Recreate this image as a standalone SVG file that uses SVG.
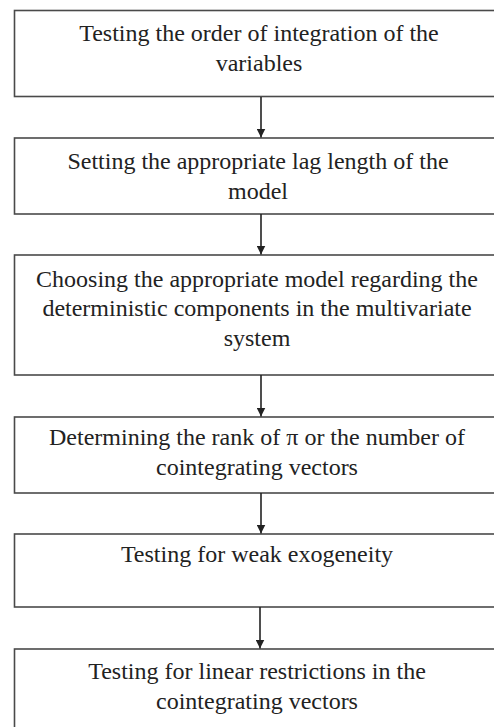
<svg xmlns="http://www.w3.org/2000/svg" width="494" height="727" viewBox="0 0 494 727">
<defs>
<style>
.box{fill:#fff;stroke:#4a4a4a;stroke-width:1.6}
.c{stroke:#222;stroke-width:1.6;fill:none}
</style>
<marker id="ah" viewBox="0 0 10 10" refX="10" refY="5" markerWidth="9" markerHeight="9" markerUnits="userSpaceOnUse" orient="auto">
<path d="M0,0 L10,5 L0,10 z" fill="#222"/>
</marker>
</defs>
<rect width="494" height="727" fill="#fff"/>
<g font-family="Liberation Serif, Times New Roman, DejaVu Serif, serif" font-size="24" fill="#222" text-anchor="middle">
<g id="n1"><rect class="box" x="14.5" y="10.5" width="495" height="86"/>
<text x="259" y="41">Testing the order of integration of the</text>
<text x="259" y="71">variables</text></g>
<g id="n2"><rect class="box" x="14.5" y="138" width="495" height="76"/>
<text x="258" y="169">Setting the appropriate lag length of the</text>
<text x="258" y="199">model</text></g>
<g id="n3"><rect class="box" x="14.5" y="255" width="495" height="120"/>
<text x="257" y="287">Choosing the appropriate model regarding the</text>
<text x="257" y="316">deterministic components in the multivariate</text>
<text x="257" y="346">system</text></g>
<g id="n4"><rect class="box" x="14.5" y="417" width="495" height="76"/>
<text x="257" y="445">Determining the rank of π or the number of</text>
<text x="257" y="475">cointegrating vectors</text></g>
<g id="n5"><rect class="box" x="14.5" y="534" width="495" height="73"/>
<text x="257" y="562">Testing for weak exogeneity</text></g>
<g id="n6"><rect class="box" x="14.5" y="649" width="495" height="100"/>
<text x="257" y="679">Testing for linear restrictions in the</text>
<text x="257" y="709">cointegrating vectors</text></g>
</g>
<g id="connectors">
<line class="c" x1="261" y1="97" x2="261" y2="137.5" marker-end="url(#ah)"/>
<line class="c" x1="261" y1="214" x2="261" y2="254.5" marker-end="url(#ah)"/>
<line class="c" x1="261" y1="375" x2="261" y2="416.5" marker-end="url(#ah)"/>
<line class="c" x1="261" y1="493" x2="261" y2="533.5" marker-end="url(#ah)"/>
<line class="c" x1="260" y1="607" x2="260" y2="648.5" marker-end="url(#ah)"/>
</g>
</svg>
